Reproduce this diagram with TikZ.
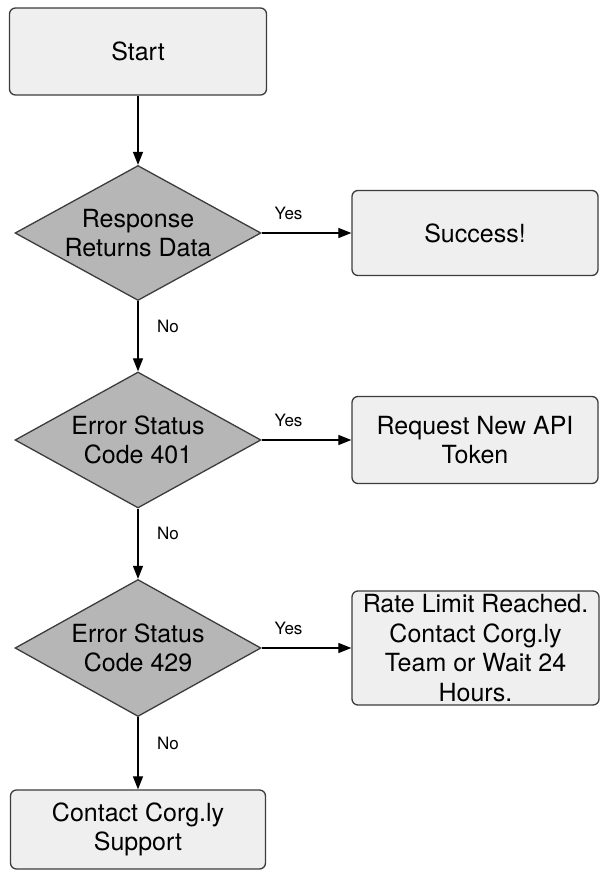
\documentclass[tikz,border=0pt]{standalone}
\usepackage{fontspec}
\setmainfont{TeX Gyre Heros}
\usetikzlibrary{shapes.geometric,arrows.meta}
\definecolor{boxgray}{RGB}{239,239,239}
\definecolor{diagray}{RGB}{182,182,182}
\definecolor{edgegray}{RGB}{60,60,60}
\tikzset{
  box/.style={draw=edgegray, fill=boxgray, rounded corners=6pt, line width=1.3pt, inner sep=0pt, align=center, font=\fontsize{25}{29.5}\selectfont},
  decision/.style={diamond, draw=edgegray, fill=diagray, line width=1.3pt, inner sep=0pt, aspect=1.8, align=center, font=\fontsize{25}{29.5}\selectfont},
  flow/.style={-{Triangle[length=13pt,width=10pt]}, line width=1.2pt},
  answer/.style={font=\fontsize{17}{20}\selectfont}
}
\begin{document}
\begin{tikzpicture}[x=1pt,y=-1pt]
  \useasboundingbox (0,0) rectangle (600,872);
  \node[box, minimum width=257pt, minimum height=87pt] (start) at (138,51.5) {Start};
  \node[decision, minimum width=246pt, minimum height=135pt] (resp) at (138,233) {Response\\Returns Data};
  \node[decision, minimum width=246pt, minimum height=136pt] (err401) at (138,440) {Error Status\\Code 401};
  \node[decision, minimum width=246pt, minimum height=137pt] (err429) at (138,648) {Error Status\\Code 429};
  \node[box, minimum width=255pt, minimum height=79pt] (support) at (138,829.5) {Contact Corg.ly\\Support};
  \node[box, minimum width=246pt, minimum height=85pt] (success) at (475,233) {Success!};
  \node[box, minimum width=246pt, minimum height=87pt] (token) at (475,440) {Request New API\\Token};
  \node[box, minimum width=247pt, minimum height=114pt] (limit) at (475.5,648) {Rate Limit Reached.\\Contact Corg.ly\\Team or Wait 24\\Hours.};
  \draw[flow] (start) -- (resp);
  \draw[flow] (resp) -- node[answer, pos=0.3, yshift=20pt] {Yes} (success);
  \draw[flow] (resp) -- node[answer, pos=0.36, xshift=30pt] {No} (err401);
  \draw[flow] (err401) -- node[answer, pos=0.3, yshift=20pt] {Yes} (token);
  \draw[flow] (err401) -- node[answer, pos=0.36, xshift=30pt] {No} (err429);
  \draw[flow] (err429) -- node[answer, pos=0.3, yshift=20pt] {Yes} (limit);
  \draw[flow] (err429) -- node[answer, pos=0.36, xshift=30pt] {No} (support);
\end{tikzpicture}
\end{document}
